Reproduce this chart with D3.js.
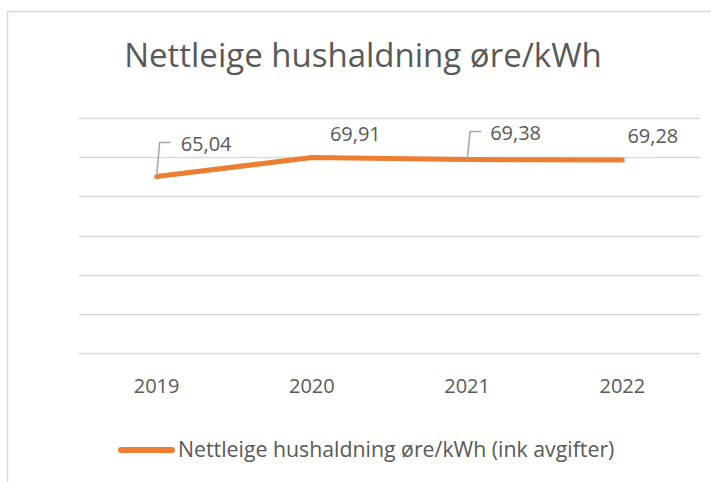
<!DOCTYPE html>
<html>
<head>
<meta charset="utf-8">
<script src="https://cdn.jsdelivr.net/npm/d3@7"></script>
<style>
  body { margin: 0; background: #fff; }
  text { font-family: "Open Sans", sans-serif; fill: #595959; }
</style>
</head>
<body>
<div id="main"></div>
<script>
var years = ["2019", "2020", "2021", "2022"];
var values = [65.04, 69.91, 69.38, 69.28];
var valueLabels = ["65,04", "69,91", "69,38", "69,28"];
var yTicks = [20, 30, 40, 50, 60, 70, 80];
var titleText = "Nettleige hushaldning øre/kWh";
var seriesName = "Nettleige hushaldning øre/kWh (ink avgifter)";

// label placement (offset from point), leader = draw a leader line
var labelPos = [
  { dx: 24, dy: -26, leader: true },
  { dx: 18, dy: -17, leader: false },
  { dx: 23, dy: -20, leader: true },
  { dx: 5, dy: -17, leader: false }
];

var width = 711, height = 482;
var margin = { top: 118, right: 11, bottom: 129, left: 79 };

var svg = d3.select("#main").append("svg")
  .attr("width", width)
  .attr("height", height);

// chart frame (only top and left visible)
svg.append("path")
  .attr("d", "M7.5," + height + "V11.5H" + width)
  .attr("fill", "none")
  .attr("stroke", "#d9d9d9")
  .attr("stroke-width", 1.5);

var x = d3.scaleBand()
  .domain(years)
  .range([margin.left, width - margin.right]);

var y = d3.scaleLinear()
  .domain([20, 80])
  .range([height - margin.bottom, margin.top]);

// gridlines
svg.append("g")
  .selectAll("line")
  .data(yTicks)
  .enter().append("line")
  .attr("x1", margin.left)
  .attr("x2", width - margin.right)
  .attr("y1", function (d) { return Math.round(y(d)) + 0.5; })
  .attr("y2", function (d) { return Math.round(y(d)) + 0.5; })
  .attr("stroke", "#d9d9d9")
  .attr("stroke-width", 1.5);

// x axis labels
var xAxis = d3.axisBottom(x).tickSize(0).tickPadding(0);
var gx = svg.append("g")
  .attr("transform", "translate(0," + (height - margin.bottom) + ")")
  .call(xAxis);
gx.select(".domain").remove();
gx.selectAll("text")
  .attr("dy", 0)
  .attr("y", 40)
  .style("font-size", "20px")
  .style("font-family", "Open Sans, sans-serif")
  .attr("fill", "#595959");

// title
svg.append("text")
  .attr("x", 363)
  .attr("y", 67)
  .attr("text-anchor", "middle")
  .style("font-size", "33px")
  .text(titleText);

// line
var line = d3.line()
  .x(function (d, i) { return x(years[i]) + x.bandwidth() / 2; })
  .y(function (d) { return y(d); });

svg.append("path")
  .datum(values)
  .attr("d", line)
  .attr("fill", "none")
  .attr("stroke", "#ed7d31")
  .attr("stroke-width", 5)
  .attr("stroke-linecap", "round")
  .attr("stroke-linejoin", "round");

// data labels
values.forEach(function (v, i) {
  var px = x(years[i]) + x.bandwidth() / 2, py = y(v);
  var p = labelPos[i];
  var tx = px + p.dx, ty = py + p.dy;
  if (p.leader) {
    svg.append("path")
      .attr("d", "M" + px + "," + py + "L" + (px + 3) + "," + (ty - 8) + "H" + (px + 14))
      .attr("fill", "none")
      .attr("stroke", "#a6a6a6")
      .attr("stroke-width", 1.5);
  }
  svg.append("text")
    .attr("x", tx)
    .attr("y", ty)
    .style("font-size", "20px")
    .text(valueLabels[i]);
});

// legend
svg.append("line")
  .attr("x1", 121).attr("x2", 172)
  .attr("y1", 450).attr("y2", 450)
  .attr("stroke", "#ed7d31")
  .attr("stroke-width", 6)
  .attr("stroke-linecap", "round");

svg.append("text")
  .attr("x", 178)
  .attr("y", 457)
  .style("font-size", "21.3px")
  .text(seriesName);
</script>
</body>
</html>
